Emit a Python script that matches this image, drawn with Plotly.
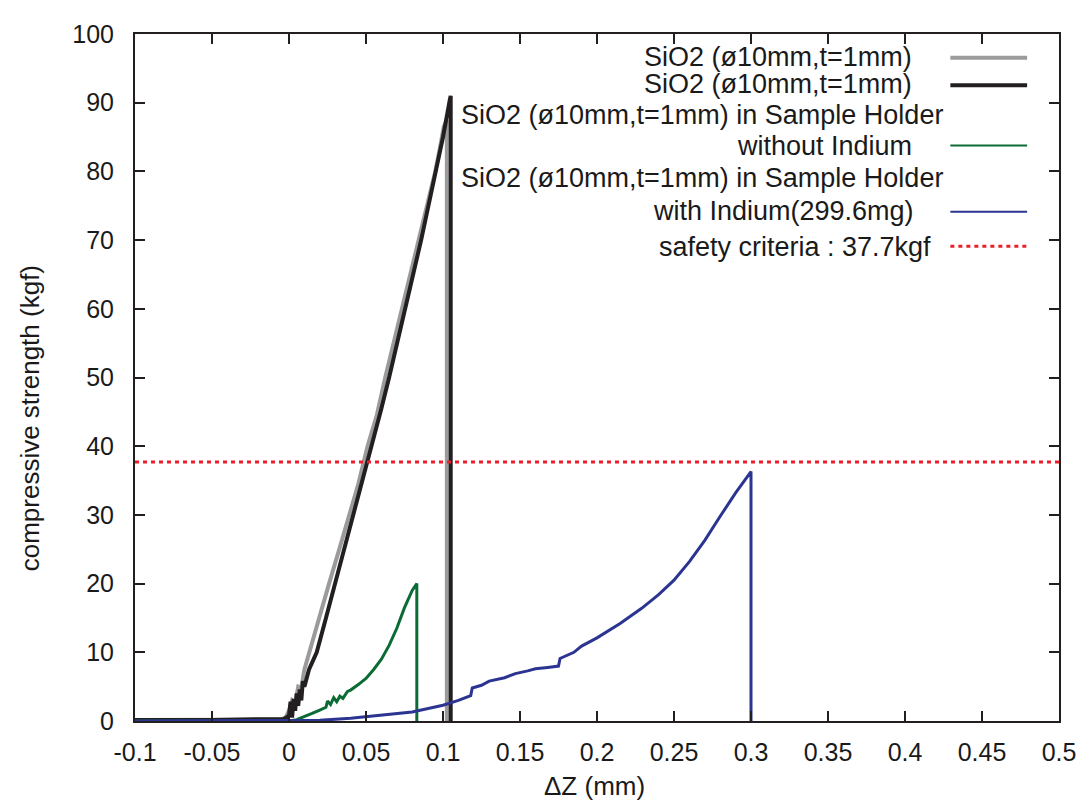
import plotly.graph_objects as go

# ---------------- data ----------------
gray_x = [-0.1, -0.05, -0.005, -0.002, 0.0, 0.002, 0.004, 0.006, 0.008, 0.01, 0.015, 0.02,
          0.026, 0.032, 0.039, 0.045, 0.051, 0.057, 0.0625, 0.068, 0.0735, 0.079, 0.0845,
          0.09, 0.095, 0.0985, 0.1005, 0.1025, 0.1025]
gray_y = [0.15, 0.15, 0.2, 0.6, 1.5, 3.0, 2.6, 5.0, 4.8, 7.5, 11.5, 15.5,
          20.0, 24.5, 30.0, 34.5, 40.0, 44.5, 50.0, 55.0, 60.0, 65.0, 70.0,
          75.0, 80.0, 84.0, 86.5, 87.5, 0.0]

black_x = [-0.1, -0.05, -0.003, 0.0, 0.001, 0.002, 0.003, 0.004, 0.005, 0.006, 0.007, 0.008,
           0.009, 0.010, 0.013, 0.018, 0.024, 0.030, 0.036, 0.042, 0.048, 0.054, 0.060,
           0.065, 0.070, 0.0754, 0.0806, 0.0858, 0.0906, 0.0955, 0.100, 0.1045, 0.105, 0.105]
black_y = [0.15, 0.15, 0.3, 0.8, 2.8, 0.5, 3.2, 1.5, 4.0, 2.2, 4.6, 3.0,
           5.8, 5.0, 7.5, 10.0, 15.0, 20.0, 25.0, 30.0, 35.0, 40.0, 45.5,
           50.0, 55.0, 60.0, 65.0, 70.0, 75.0, 80.0, 85.0, 90.5, 91.0, 0.0]

green_x = [-0.1, 0.0, 0.005, 0.01, 0.015, 0.02, 0.024, 0.025, 0.027, 0.029, 0.031, 0.033,
           0.035, 0.038, 0.04, 0.045, 0.05, 0.055, 0.06, 0.065, 0.07, 0.075, 0.08, 0.083, 0.083]
green_y = [0.0, 0.0, 0.2, 0.6, 1.1, 1.6, 2.0, 2.9, 2.4, 3.4, 2.8, 3.6,
           3.3, 4.3, 4.5, 5.3, 6.2, 7.5, 9.0, 11.0, 13.5, 16.5, 19.0, 20.0, 0.0]

blue_x = [-0.1, 0.0, 0.02, 0.04, 0.06, 0.08, 0.1, 0.11, 0.118, 0.119, 0.125, 0.13, 0.14,
          0.147, 0.155, 0.16, 0.168, 0.175, 0.176, 0.185, 0.19, 0.2, 0.215, 0.229, 0.24,
          0.25, 0.26, 0.27, 0.28, 0.29, 0.3, 0.3]
blue_y = [0.0, 0.0, 0.1, 0.4, 0.8, 1.3, 2.3, 3.0, 3.7, 4.8, 5.2, 5.8, 6.3,
          6.9, 7.3, 7.6, 7.8, 8.0, 9.1, 10.0, 10.9, 12.1, 14.2, 16.4, 18.4,
          20.5, 23.2, 26.3, 29.8, 33.2, 36.3, 0.0]

safety_value = 37.7
x_range = [-0.1, 0.5]
y_range = [0, 100]

x_tickvals = [-0.1, -0.05, 0, 0.05, 0.1, 0.15, 0.2, 0.25, 0.3, 0.35, 0.4, 0.45, 0.5]
x_ticktext = ["-0.1", "-0.05", "0", "0.05", "0.1", "0.15", "0.2", "0.25", "0.3", "0.35",
              "0.4", "0.45", "0.5"]
y_tickvals = [0, 10, 20, 30, 40, 50, 60, 70, 80, 90, 100]

legend_labels = [
    ["SiO2 (ø10mm,t=1mm)"],
    ["SiO2 (ø10mm,t=1mm)"],
    ["SiO2 (ø10mm,t=1mm) in Sample Holder", "without Indium"],
    ["SiO2 (ø10mm,t=1mm) in Sample Holder", "with Indium(299.6mg)"],
    ["safety criteria : 37.7kgf"],
]

# ---------------- styles ----------------
GRAY = "#9b9b9b"
BLACK = "#231f20"
GREEN = "#0b6b34"
BLUE = "#2c3492"
RED = "#e8202a"
FONT = "Liberation Sans, Arial, Helvetica, sans-serif"

OFF = 8  # page body margin
PAGE_W, PAGE_H = 1088, 801
PL, PR, PT, PB = 135, 1062, 25, 721  # plot area in page pixels
W, H = PAGE_W - OFF, PAGE_H - OFF
L, T = PL - OFF, PT - OFF
R, B = W - (PR - OFF), H - (PB - OFF)
PW, PH = PR - PL, PB - PT


def px(xpage):
    return (xpage - PL) / PW


def py(ypage):
    return (PB - ypage) / PH


fig = go.Figure()
fig.add_trace(go.Scatter(x=gray_x, y=gray_y, mode="lines",
                         line=dict(color=GRAY, width=4), showlegend=False))
fig.add_trace(go.Scatter(x=black_x, y=black_y, mode="lines",
                         line=dict(color=BLACK, width=4), showlegend=False))
fig.add_trace(go.Scatter(x=green_x, y=green_y, mode="lines",
                         line=dict(color=GREEN, width=3), showlegend=False))
fig.add_trace(go.Scatter(x=blue_x, y=blue_y, mode="lines",
                         line=dict(color=BLUE, width=3), showlegend=False))
fig.add_trace(go.Scatter(x=x_range, y=[safety_value, safety_value], mode="lines",
                         line=dict(color=RED, width=3, dash="4px,4px"), showlegend=False))

# manual gnuplot-style key (text right-justified, sample on the right)
key_rows = [
    ([(legend_labels[0][0], 917, 48)], 49, GRAY, 4, "solid"),
    ([(legend_labels[1][0], 917, 76)], 77, BLACK, 4, "solid"),
    ([(legend_labels[2][0], 948, 107), (legend_labels[2][1], 917, 138)], 138, GREEN, 2, "solid"),
    ([(legend_labels[3][0], 948, 171), (legend_labels[3][1], 919, 204)], 205, BLUE, 2, "solid"),
    ([(legend_labels[4][0], 936, 241)], 240, RED, 3, "4px,4px"),
]
for texts, sy, col, wd, dash in key_rows:
    for txt, xr, yc in texts:
        fig.add_annotation(x=px(xr), y=py(yc), xref="paper", yref="paper", text=txt,
                           showarrow=False, xanchor="right", yanchor="middle",
                           font=dict(family=FONT, size=27, color="#1a1a1a"))
    fig.add_shape(type="line", xref="paper", yref="paper", x0=px(953), x1=px(1030),
                  y0=py(sy), y1=py(sy), line=dict(color=col, width=wd, dash=dash))

# axis titles
fig.add_annotation(x=px(30), y=py(414), xref="paper", yref="paper",
                   text="compressive strength (kgf)", textangle=-90, showarrow=False,
                   xanchor="center", yanchor="middle",
                   font=dict(family=FONT, size=26, color="#1a1a1a"))
fig.add_annotation(x=px(596), y=py(787), xref="paper", yref="paper",
                   text="ΔZ (mm)", showarrow=False, xanchor="center", yanchor="middle",
                   font=dict(family=FONT, size=26, color="#1a1a1a"))

axis_common = dict(showgrid=False, zeroline=False, showline=True, linecolor="#231f20",
                   linewidth=2, ticks="inside", ticklen=10, tickwidth=1.5,
                   tickcolor="#231f20", mirror="ticks",
                   tickfont=dict(family=FONT, size=25, color="#1a1a1a"))
fig.update_xaxes(range=x_range, tickvals=x_tickvals, ticktext=x_ticktext,
                 ticklabelstandoff=8, **axis_common)
fig.update_yaxes(range=y_range, tickvals=y_tickvals, ticklabelstandoff=14, **axis_common)

fig.update_layout(width=W, height=H, margin=dict(l=L, r=R, t=T, b=B),
                  plot_bgcolor="white", paper_bgcolor="white",
                  font=dict(family=FONT))

fig.write_html("out.html")
